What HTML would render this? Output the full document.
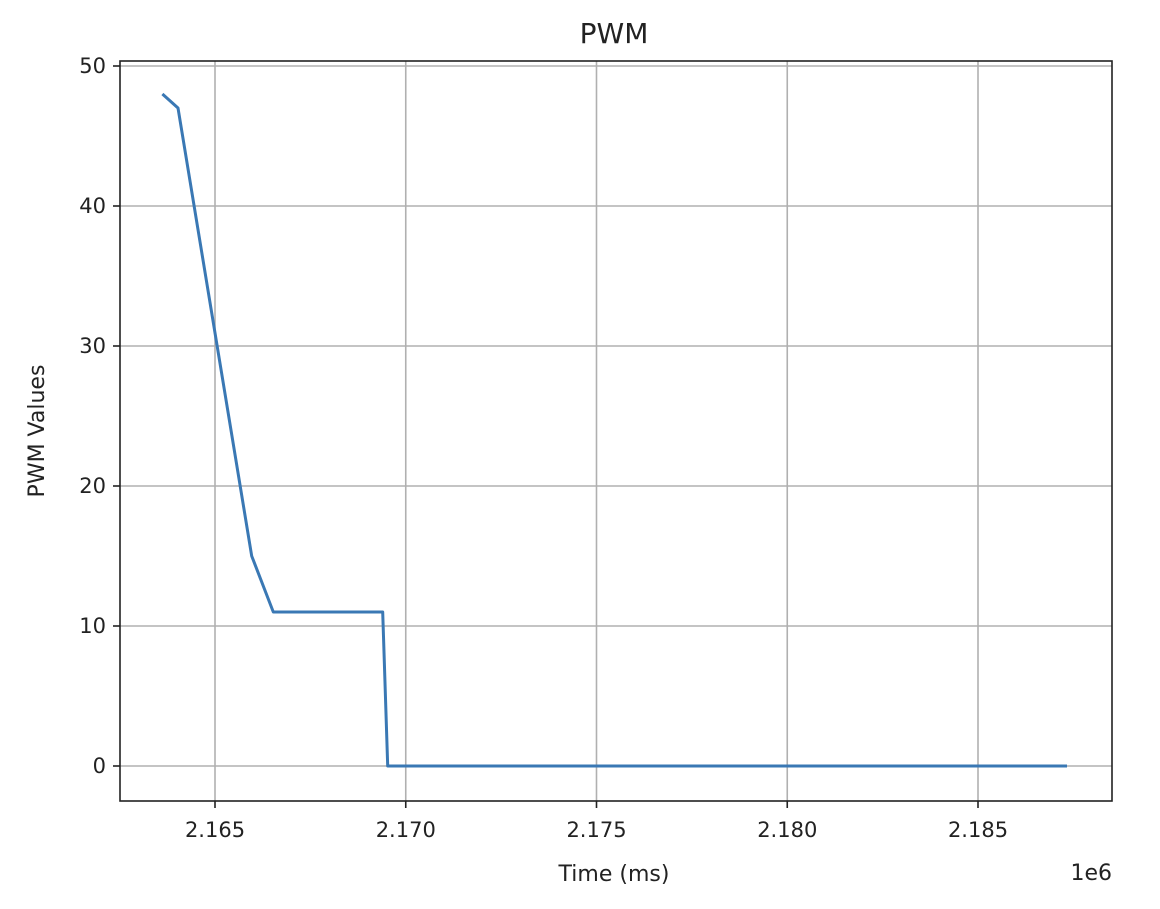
<!DOCTYPE html>
<html><head><meta charset="utf-8"><style>
body{margin:0;background:#fff;}
svg text{font-family:"DejaVu Sans","Liberation Sans",sans-serif;fill:#222;}
</style></head><body>
<svg id="chart" width="1160" height="904" xmlns="http://www.w3.org/2000/svg">
<rect width="1160" height="904" fill="#fff"/>
<g id="grid"></g>
<g id="series"></g>
<rect x="120" y="61" width="992" height="740" fill="none" stroke="#222" stroke-width="1.6"/>
<g id="ticks"></g>
<text x="614" y="43" font-size="28" text-anchor="middle">PWM</text>
<text x="614" y="881" font-size="22" text-anchor="middle">Time (ms)</text>
<text x="44" y="431" font-size="22" text-anchor="middle" transform="rotate(-90 44 431)">PWM Values</text>
<text x="1112" y="880" font-size="22" text-anchor="end">1e6</text>
</svg>
<script>
const times = [2163621, 2164030, 2165962, 2166529, 2169395, 2169526, 2187333];
const pwmValues = [48, 47, 15, 11, 11, 0, 0];
const xTicks = [2165000, 2170000, 2175000, 2180000, 2185000];
const xTickLabels = ["2.165", "2.170", "2.175", "2.180", "2.185"];
const yTicks = [0, 10, 20, 30, 40, 50];

const NS = "http://www.w3.org/2000/svg";
function xs(v){ return 215 + (v - 2165000) / 5000 * 190.75; }
function ys(v){ return 766 - v * 14; }
function mk(tag, attrs, parent){
  const e = document.createElementNS(NS, tag);
  for (const k in attrs) e.setAttribute(k, attrs[k]);
  parent.appendChild(e);
  return e;
}
const grid = document.getElementById('grid');
const ticks = document.getElementById('ticks');
xTicks.forEach((t, i) => {
  const x = xs(t);
  const g = mk('line', {x1:x, x2:x, y1:61, y2:801, stroke:'#b0b0b0', 'stroke-width':1.6}, grid);
  
  
  const tk = mk('line', {x1:x, x2:x, y1:801, y2:808, stroke:'#222', 'stroke-width':1.6}, ticks);
  
  
  const lb = mk('text', {x:x, y:837, 'font-size':21, 'text-anchor':'middle'}, ticks);
  lb.textContent = xTickLabels[i];
  
  
});
yTicks.forEach(t => {
  const y = ys(t);
  const g = mk('line', {x1:120, x2:1112, y1:y, y2:y, stroke:'#b0b0b0', 'stroke-width':1.6}, grid);
  
  
  const tk = mk('line', {x1:113, x2:120, y1:y, y2:y, stroke:'#222', 'stroke-width':1.6}, ticks);
  
  
  const lb = mk('text', {x:106, y:y + 7, 'font-size':21, 'text-anchor':'end'}, ticks);
  lb.textContent = String(t);
  
  
});
const pts = times.map((t, i) => xs(t).toFixed(1) + ',' + ys(pwmValues[i]).toFixed(1)).join(' ');
const line = mk('polyline', {points:pts, fill:'none', stroke:'#3a78b4', 'stroke-width':3, 'stroke-linejoin':'round'}, document.getElementById('series'));


</script>
</body></html>
